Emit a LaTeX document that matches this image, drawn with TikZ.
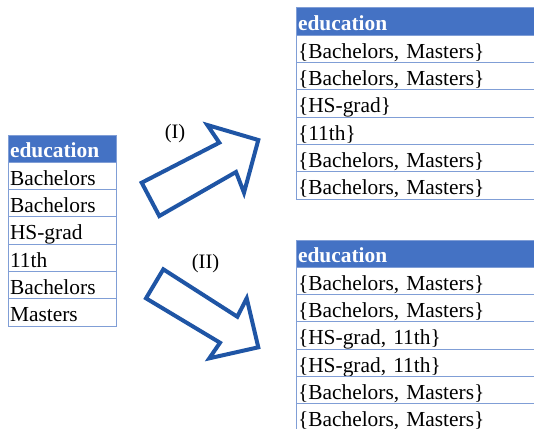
\documentclass[tikz,border=0pt]{standalone}
\usepackage{fontspec}
\setmainfont{Liberation Serif}
\usepackage{tikz}
\usetikzlibrary{positioning}
\definecolor{headblue}{HTML}{4472C4}
\definecolor{gridblue}{RGB}{128,158,214}
\definecolor{arrowblue}{HTML}{1F55A5}
\tikzset{
        cell/.style={
            draw=gridblue, line width=1pt, outer sep=0pt,
            inner xsep=2pt, inner ysep=0pt,
            text height=22.8pt, text depth=4.5pt,
            align=left, font=\fontsize{21.4}{24}\selectfont
        },
        narrow/.style={cell, text width=104pt},
        wide/.style={cell, text width=246pt},
        head/.style={fill=headblue, text=white, font=\fontsize{21.4}{24}\selectfont\bfseries},
    }

\begin{document}
\begin{tikzpicture}[
          x=1pt, y=-1pt,
          blockarrow/.style = {draw=arrowblue, line width=4pt, line join=miter, fill=white},
          tag/.style = {font=\fontsize{20.5}{24}\selectfont}
          ]
 \useasboundingbox (0,0) rectangle (534,428);
          % left table
          \node[narrow,head,anchor=north west] (L0) at (8,135) {education};
          \node[narrow,below=0pt of L0] (L1) {Bachelors};
          \node[narrow,below=0pt of L1] (L2) {Bachelors};
          \node[narrow,below=0pt of L2] (L3) {HS-grad};
          \node[narrow,below=0pt of L3] (L4) {11th};
          \node[narrow,below=0pt of L4] (L5) {Bachelors};
          \node[narrow,below=0pt of L5] (L6) {Masters};
          % top right table
          \node[wide,head,anchor=north west] (A0) at (296,8) {education};
          \node[wide,below=0pt of A0] (A1) {\{Bachelors, Masters\}};
          \node[wide,below=0pt of A1] (A2) {\{Bachelors, Masters\}};
          \node[wide,below=0pt of A2] (A3) {\{HS-grad\}};
          \node[wide,below=0pt of A3] (A4) {\{11th\}};
          \node[wide,below=0pt of A4] (A5) {\{Bachelors, Masters\}};
          \node[wide,below=0pt of A5] (A6) {\{Bachelors, Masters\}};
          % bottom right table
          \node[wide,head,anchor=north west] (B0) at (296,240) {education};
          \node[wide,below=0pt of B0] (B1) {\{Bachelors, Masters\}};
          \node[wide,below=0pt of B1] (B2) {\{Bachelors, Masters\}};
          \node[wide,below=0pt of B2] (B3) {\{HS-grad, 11th\}};
          \node[wide,below=0pt of B3] (B4) {\{HS-grad, 11th\}};
          \node[wide,below=0pt of B4] (B5) {\{Bachelors, Masters\}};
          \node[wide,below=0pt of B5] (B6) {\{Bachelors, Masters\}};
          % block arrows
          \draw[blockarrow] (141.7,182.7) -- (219.3,142.7) -- (207.3,125) -- (258.3,140)
                -- (244,192.7) -- (236,172) -- (159.3,216) -- cycle;
          \draw[blockarrow] (163.3,269.3) -- (237.3,316.7) -- (246.7,298.3) -- (258.3,347.3)
                -- (209.3,358.3) -- (220,342.7) -- (146,298.3) -- cycle;
          \node[tag] (stepI) at (175,134) {(I)};
          \node[tag] (stepII) at (205.5,264) {(II)};
        \end{tikzpicture}
\end{document}
